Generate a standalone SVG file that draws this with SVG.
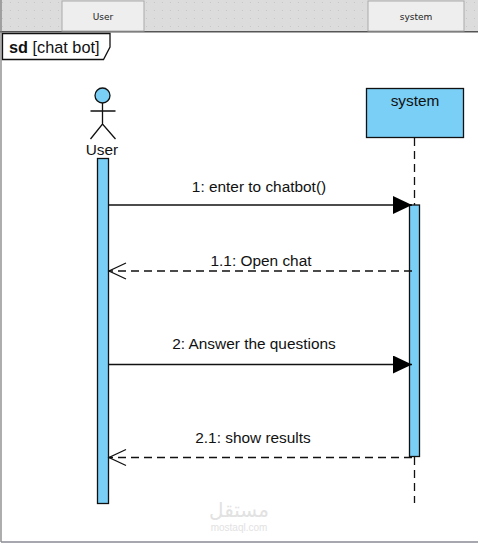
<svg xmlns="http://www.w3.org/2000/svg" width="478" height="543" viewBox="0 0 478 543">
<defs>
<style>
text{font-family:"Liberation Sans",Arial,sans-serif;fill:#111}
.lbl{font-size:15.4px;text-anchor:middle}
.tab{font-size:9px;text-anchor:middle;font-family:"DejaVu Sans",sans-serif;fill:#222}
.tb{fill:#eee;stroke:#aaa;stroke-width:1}
.b{fill:#7acff6;stroke:#111;stroke-width:1.3}
.l{fill:none;stroke:#111;stroke-width:1.3}
.d{fill:none;stroke:#111;stroke-width:1.3;stroke-dasharray:8 5}
</style>
<pattern id="dots" width="8" height="8" patternUnits="userSpaceOnUse"><rect width="8" height="8" fill="#dcdcdc"/><rect x="2" y="2" width="1" height="1" fill="#c8c8c8"/></pattern>
<marker id="solid" markerUnits="userSpaceOnUse" markerWidth="20" markerHeight="20" refX="19" refY="9" orient="auto"><path d="M0 0L19 9L0 18Z" fill="#000"/></marker>
<marker id="open" markerUnits="userSpaceOnUse" markerWidth="20" markerHeight="20" refX="18" refY="9" orient="auto"><path d="M1 1L18 9L1 17" fill="none" stroke="#111" stroke-width="1.3"/></marker>
</defs>
<rect width="478" height="543" fill="#fff"/>
<g id="header">
<rect x="0" y="0" width="478" height="32" fill="url(#dots)"/>
<rect x="0" y="31" width="478" height="1.500" fill="#555"/>
<rect x="62" y="1" width="82" height="30" class="tb"/>
<text x="103" y="20" class="tab">User</text>
<rect x="368" y="1" width="96" height="30" class="tb"/>
<text x="416" y="20" class="tab">system</text>
</g>
<path d="M1 0V542" fill="none" stroke="#777" stroke-width="1.200"/>
<path d="M1 542H478" stroke="#8a8a96" stroke-width="1.500" fill="none"/>
<g id="frame">
<path d="M2.500 33.500H110V47L103.500 59.500H2.500Z" fill="#fff" stroke="#111" stroke-width="1.300"/>
<text x="9" y="53" font-size="16.300"><tspan font-weight="bold">sd</tspan> [chat bot]</text>
</g>
<g id="user">
<circle cx="102.500" cy="95.500" r="7.500" class="b"/>
<path class="l" d="M102.500 103V124M90.500 111H115.500M90.500 139L102.500 124L115.500 139"/>
<text class="lbl" x="102" y="155">User</text>
<rect x="97.500" y="158.500" width="11" height="345" class="b"/>
</g>
<g id="system">
<rect x="366.500" y="88.500" width="97" height="49" class="b"/>
<text class="lbl" x="415" y="106">system</text>
<rect x="409.500" y="205" width="10" height="251.500" class="b"/>
</g>
<g id="connectors">
<path class="d" d="M414.500 138V205"/>
<path class="d" d="M414.500 457V503"/>
<path class="l" d="M108 205H412" marker-end="url(#solid)"/>
<path class="d" d="M412 271H109" marker-end="url(#open)"/>
<path class="l" d="M108 364.500H412" marker-end="url(#solid)"/>
<path class="d" d="M412 457.500H109" marker-end="url(#open)"/>
<text class="lbl" x="259" y="192">1: enter to chatbot()</text>
<text class="lbl" x="261" y="266">1.1: Open chat</text>
<text class="lbl" x="254" y="349">2: Answer the questions</text>
<text class="lbl" x="253" y="443">2.1: show results</text>
</g>
<g id="watermark">
<text x="239" y="517" font-size="20" text-anchor="middle" style="font-family:'DejaVu Sans',sans-serif;fill:#e2e2e2">مستقل</text>
<text x="239" y="531" font-size="10" text-anchor="middle" style="fill:#e2e2e2">mostaql.com</text>
</g>
</svg>
